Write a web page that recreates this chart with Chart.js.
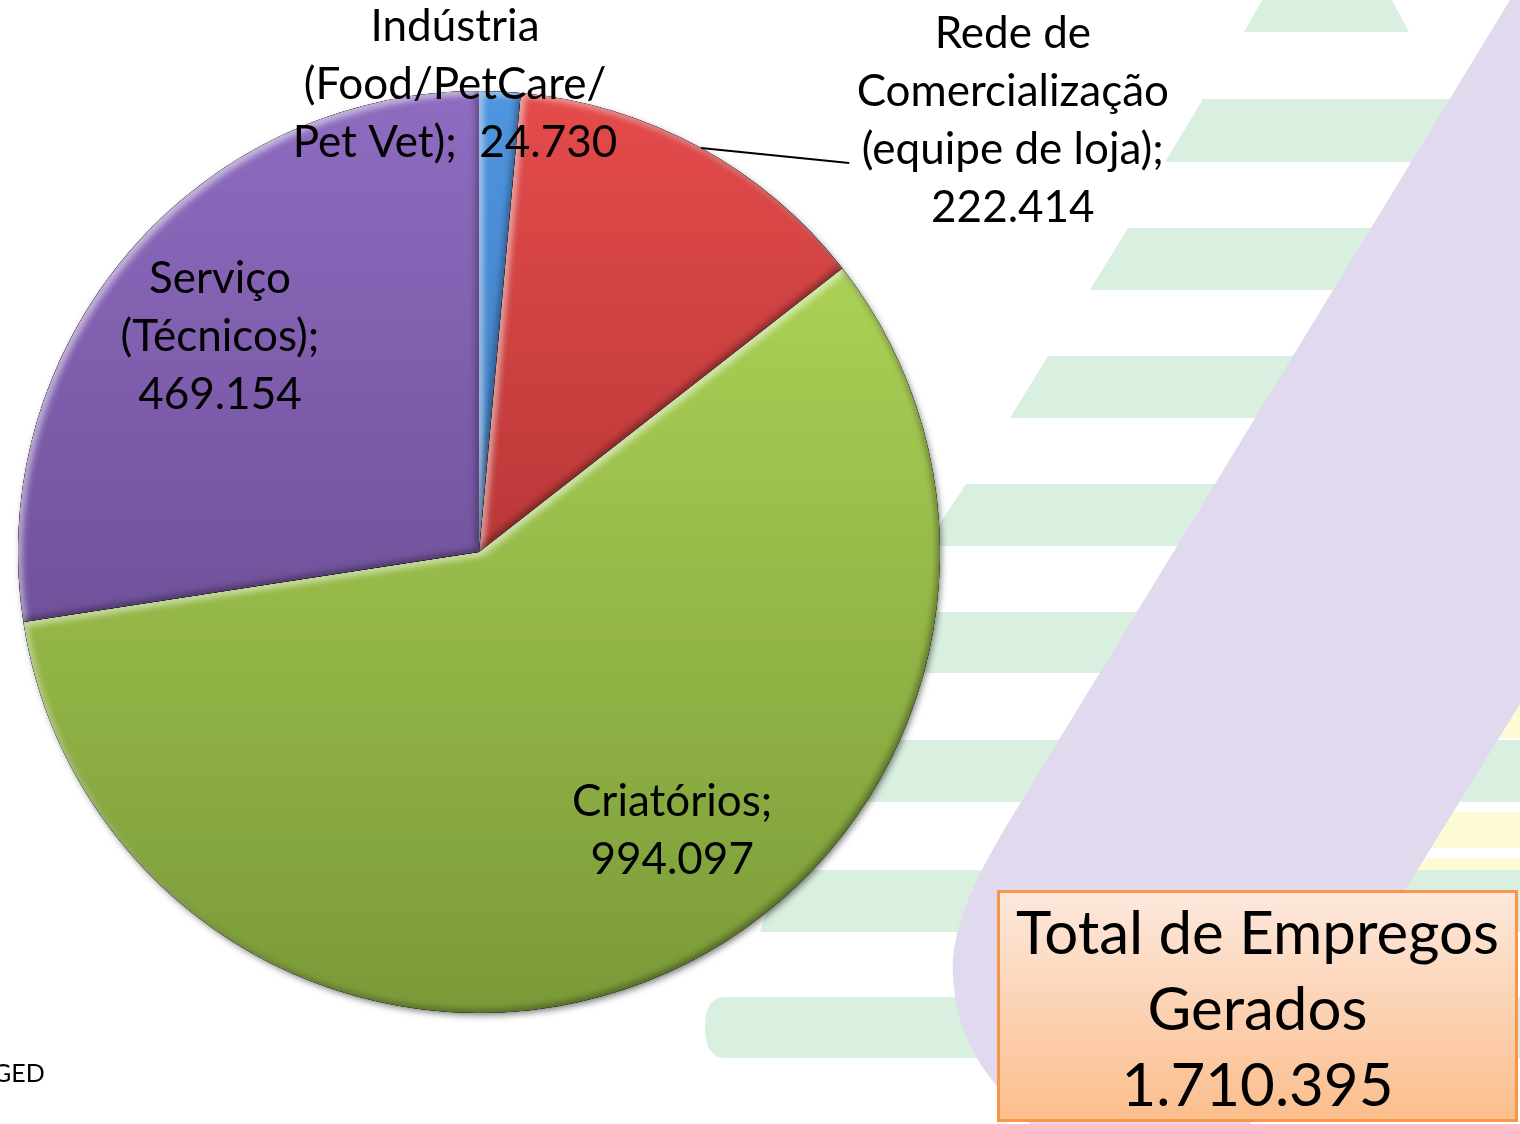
<!DOCTYPE html>
<html>
<head>
<meta charset="utf-8">
<script src="https://cdn.jsdelivr.net/npm/chart.js@4.4.0/dist/chart.umd.min.js"></script>
<style>
html,body{margin:0;padding:0;background:#fff;overflow:hidden;}
#wrap{position:relative;width:1520px;height:1124px;}
#bg{position:absolute;left:0;top:0;}
#cv{position:absolute;left:0;top:0;}
#total{position:absolute;left:997px;top:890px;width:515px;height:226px;padding-top:0;border:3px solid #f79646;
  background:linear-gradient(#fde8dc,#fbbe8d);font-family:Lato,"Open Sans",sans-serif;font-size:60px;text-align:center;line-height:76px;color:#000;}
#src{position:absolute;left:-7px;top:1057px;font:25px Lato,"Open Sans",sans-serif;color:#000;}
</style>
</head>
<body>
<div id="wrap">
<svg id="bg" width="1520" height="1124" xmlns="http://www.w3.org/2000/svg">
  <g fill="#fcfbd6">
    <rect x="1300" y="690" width="220" height="48"/>
    <rect x="1300" y="812" width="220" height="36"/>
    <rect x="1300" y="858" width="220" height="32"/>
  </g>
  <g fill="#d9f0e0">
    <polygon points="1262,0 1392,0 1409,32 1244,32"/>
    <polygon points="1203,99 1520,99 1520,162 1165,162"/>
    <polygon points="1128,228 1520,228 1520,290 1090,290"/>
    <polygon points="1048,356 1520,356 1520,418 1010,418"/>
    <polygon points="966,484 1520,484 1520,546 925,546"/>
    <polygon points="880,612 1520,612 1520,673 840,673"/>
    <polygon points="796,740 1520,740 1520,802 756,802"/>
    <polygon points="780,870 1520,870 1520,932 760,932"/>
    <path d="M725,997 L1520,997 L1520,1058 L725,1058 Q705,1058 705,1027 Q705,997 725,997 Z"/>
  </g>
  <path fill="#e1d9ee" d="M1510,0 L1010,820 C975,878 950,930 953,975 C956,1030 975,1060 1000,1090 L1030,1124 L1250,1124 L1405,890 L1520,704 L1520,0 Z"/>
</svg>
<canvas id="cv" width="1520" height="1124"></canvas>
<div id="src">GED</div>
<div id="total">Total de Empregos<br>Gerados<br>1.710.395</div>
</div>
<script>
// ---- data ----
const categories = ['Indústria (Food/PetCare/Pet Vet)', 'Rede de Comercialização (equipe de loja)', 'Criatórios', 'Serviço (Técnicos)'];
const values = [24730, 222414, 994097, 469154];
const labelLines = [
  ['Indústria', '(Food/PetCare/', 'Pet Vet);  {v}'],
  ['Rede de', 'Comercialização', '(equipe de loja);', '{v}'],
  ['Criatórios;', '{v}'],
  ['Serviço', '(Técnicos);', '{v}']
];
const topColors = ['#4f95e0', '#e54b4b', '#b6de5c', '#8e6cc0'];
const bottomColors = ['#2f619c', '#8e2626', '#7a9a38', '#5a3e80'];

// ---- label placement (relative to pie centre, in radius units) ----
const labelAnchors = [[-0.052, -1.013], [1.158, -0.936], [0.419, 0.605], [-0.562, -0.466]];
const lineH = 58;
const leader = {index: 1, angleDeg: 28.8, end: [0.803, -0.844]};

function fmt(n){ return String(n).replace(/\B(?=(\d{3})+(?!\d))/g, '.'); }

const bgShadow = {
  id: 'bgShadow',
  beforeDatasetsDraw(chart){
    const arc = chart.getDatasetMeta(0).data[0];
    if(!arc) return;
    const {x, y, outerRadius} = arc.getProps(['x','y','outerRadius'], true);
    const ctx = chart.ctx;
    ctx.save();
    ctx.shadowColor = 'rgba(0,0,0,0.55)';
    ctx.shadowBlur = 7;
    ctx.shadowOffsetX = 2;
    ctx.shadowOffsetY = 3;
    ctx.fillStyle = '#777';
    ctx.beginPath(); ctx.arc(x, y, outerRadius - 1, 0, Math.PI*2); ctx.fill();
    ctx.restore();
  }
};

const emboss = {
  id: 'emboss',
  afterDatasetsDraw(chart){
    const ctx = chart.ctx;
    chart.getDatasetMeta(0).data.forEach((arc) => {
      const p = arc.getProps(['x','y','startAngle','endAngle','outerRadius'], true);
      const slicePath = () => {
        ctx.moveTo(p.x, p.y);
        ctx.arc(p.x, p.y, p.outerRadius, p.startAngle, p.endAngle);
        ctx.closePath();
      };
      const pass = (color, ox, oy, blur) => {
        ctx.save();
        ctx.beginPath(); slicePath(); ctx.clip();
        ctx.beginPath();
        ctx.rect(p.x - 3000, p.y - 3000, 6000, 6000);
        slicePath();
        ctx.shadowColor = color; ctx.shadowBlur = blur;
        ctx.shadowOffsetX = ox; ctx.shadowOffsetY = oy;
        ctx.fillStyle = '#000';
        ctx.fill('evenodd');
        ctx.restore();
      };
      pass('rgba(255,255,255,0.55)', 4, 4, 6);
      pass('rgba(0,0,0,0.35)', -3, -3, 6);
    });
  }
};

const labels = {
  id: 'sliceLabels',
  afterDraw(chart){
    const meta = chart.getDatasetMeta(0);
    const arc0 = meta.data[0];
    if(!arc0) return;
    const {x: cx, y: cy, outerRadius: r} = arc0.getProps(['x','y','outerRadius'], true);
    const ctx = chart.ctx;
    ctx.save();
    const la = leader.angleDeg * Math.PI / 180;
    ctx.strokeStyle = '#000'; ctx.lineWidth = 2;
    ctx.beginPath();
    ctx.moveTo(cx + r * Math.sin(la), cy - r * Math.cos(la));
    ctx.lineTo(cx + r * leader.end[0], cy + r * leader.end[1]);
    ctx.stroke();
    ctx.fillStyle = '#000';
    ctx.font = '44px Lato, "Open Sans", sans-serif';
    ctx.textAlign = 'center';
    ctx.textBaseline = 'middle';
    labelLines.forEach((lines, i) => {
      const bx = cx + r * labelAnchors[i][0];
      const by = cy + r * labelAnchors[i][1];
      const n = lines.length;
      lines.forEach((t, k) => {
        const txt = t.replace('{v}', fmt(values[i]));
        ctx.fillText(txt, bx, by + (k - (n - 1) / 2) * lineH);
      });
    });
    ctx.restore();
  }
};

function grad(i){
  return (c) => {
    const area = c.chart.chartArea;
    if(!area) return topColors[i];
    const g = c.chart.ctx.createLinearGradient(0, area.top, 0, area.bottom);
    g.addColorStop(0, topColors[i]);
    g.addColorStop(1, bottomColors[i]);
    return g;
  };
}

new Chart(document.getElementById('cv'), {
  type: 'pie',
  data: {
    labels: categories,
    datasets: [{
      data: values,
      backgroundColor: (c) => grad(c.dataIndex)(c),
      borderWidth: 0,
      hoverOffset: 0
    }]
  },
  options: {
    responsive: false,
    animation: false,
    rotation: 0,
    layout: {padding: {left: 18, right: 580, top: 91, bottom: 111}},
    plugins: {legend: {display: false}, tooltip: {enabled: false}, title: {display: false}},
    events: []
  },
  plugins: [bgShadow, emboss, labels]
});
</script>
</body>
</html>
